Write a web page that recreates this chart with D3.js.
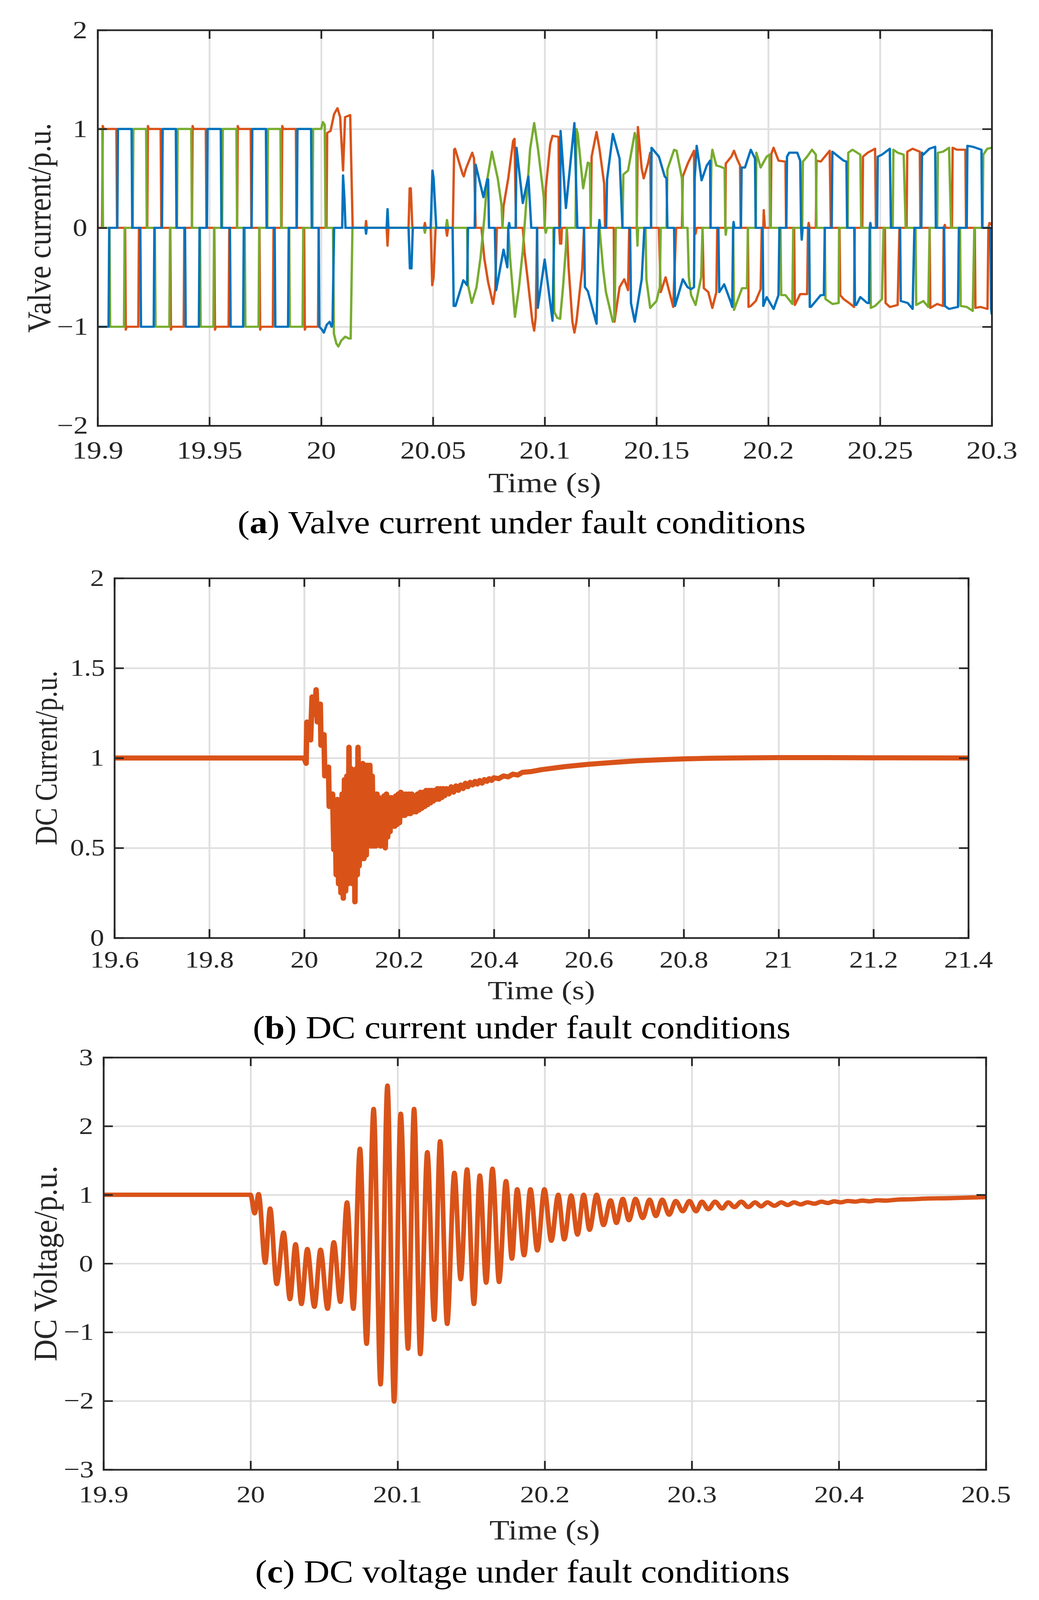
<!DOCTYPE html>
<html>
<head>
<meta charset="utf-8">
<script src="https://cdn.jsdelivr.net/npm/d3@7"></script>
<style>
  html, body { margin: 0; padding: 0; background: #fff; overflow: hidden; }
  svg { display: block; }
  .tick text { transform-box: fill-box; transform-origin: center; transform: scaleX(1.1); }
</style>
</head>
<body>
<div id="chart"></div>
<script>
// ---- panel (a): valve currents, [time s, current p.u.]
const valveOrange = [
  [19.9,0],[19.902,0],[19.9023,1.03],[19.9027,1],[19.9084,1],[19.9087,0],
  [19.9123,0],[19.9126,-1.03],[19.913,-1],[19.9182,-1],[19.9185,0],
  [19.9222,0],[19.9225,1.03],[19.9229,1],[19.9282,1],[19.9285,0],
  [19.9325,0],[19.9328,-1.03],[19.9332,-1],[19.9385,-1],[19.9388,0],
  [19.9422,0],[19.9425,1.03],[19.9429,1],[19.9484,1],[19.9487,0],
  [19.9522,0],[19.9525,-1.03],[19.9529,-1],[19.9586,-1],[19.9589,0],
  [19.9624,0],[19.9627,1.03],[19.9631,1],[19.9685,1],[19.9688,0],
  [19.9724,0],[19.9727,-1.03],[19.9731,-1],[19.9784,-1],[19.9787,0],
  [19.9823,0],[19.9826,1.03],[19.983,1],[19.9887,1],[19.989,0],
  [19.9924,0],[19.9927,-1.03],[19.9931,-1],[19.9986,-1],[19.9989,0],
  [20.0024,0],[20.0027,0.96],[20.0042,0.98],[20.0058,1.15],[20.0073,1.21],[20.0085,1.12],[20.0098,0.58],[20.0107,1.12],[20.013,1.14],[20.0141,0],
  [20.0198,0],[20.0201,0.07],[20.0204,0],[20.0293,0],[20.0297,-0.18],[20.0301,0],
  [20.0391,0],[20.0396,0.4],[20.0401,0.4],[20.0408,0],[20.046,0],[20.0464,0.05],[20.0468,0],
  [20.049,0],[20.0497,-0.58],[20.0503,-0.5],[20.0512,0],[20.0558,0],[20.0563,-0.08],[20.0568,0],
  [20.0589,0],[20.0595,0.79],[20.0599,0.8],[20.0632,0.55],[20.0638,0.52],[20.0648,0.6],[20.0676,0.76],[20.0684,0.7],[20.0691,0],
  [20.0717,0],[20.073,-0.31],[20.0747,-0.55],[20.0769,-0.77],[20.0779,-0.62],[20.0786,0],
  [20.0811,0],[20.0816,0.22],[20.0837,0.5],[20.0859,0.88],[20.0865,0.9],[20.0872,0],
  [20.0902,0],[20.091,-0.25],[20.0923,-0.5],[20.0945,-0.95],[20.0953,-1.04],[20.096,-0.9],[20.0966,0],
  [20.1,0],[20.1005,0.4],[20.1025,0.85],[20.1035,0.93],[20.1062,0.92],[20.1065,0],[20.1069,-0.16],[20.1074,-0.16],[20.1077,0],
  [20.1099,0],[20.1107,-0.4],[20.1124,-0.95],[20.1133,-1.06],[20.1142,-0.95],[20.1168,-0.41],[20.1176,0],
  [20.1206,0],[20.121,0.72],[20.1232,0.97],[20.1245,0.8],[20.1266,0.45],[20.127,0],
  [20.1309,0],[20.1312,-0.95],[20.1335,-0.6],[20.1356,-0.52],[20.1373,-0.63],[20.1378,0],
  [20.1412,0],[20.1417,1.02],[20.1434,0.6],[20.1443,0.5],[20.1462,0.65],[20.1472,0.76],[20.1476,0],
  [20.1511,0],[20.1519,-0.65],[20.1541,-0.5],[20.1575,-0.8],[20.1588,0],
  [20.1614,0],[20.1618,0.52],[20.164,0.65],[20.1655,0.72],[20.1668,0.78],[20.1671,0],[20.1675,-0.06],[20.168,0],
  [20.1706,0],[20.1712,-0.61],[20.1732,-0.65],[20.175,-0.81],[20.1768,-0.65],[20.1772,0],
  [20.1808,0],[20.181,0.65],[20.1835,0.72],[20.1847,0.78],[20.186,0.7],[20.1874,0.63],[20.1877,0],
  [20.1909,0],[20.1912,-0.8],[20.1922,-0.79],[20.1944,-0.74],[20.1966,-0.62],[20.1971,0],[20.1978,0],[20.198,0.18],[20.1985,0],
  [20.2011,0],[20.2014,0.75],[20.2024,0.81],[20.2046,0.68],[20.2077,0.67],[20.208,0],
  [20.2116,0],[20.2119,-0.78],[20.2143,-0.67],[20.2174,-0.67],[20.2178,0],[20.2181,0.05],[20.2185,0],
  [20.2213,0],[20.2216,0.68],[20.2235,0.67],[20.2275,0.78],[20.228,0],
  [20.2319,0],[20.2322,-0.68],[20.2337,-0.72],[20.2362,-0.76],[20.2384,-0.8],[20.2387,0],
  [20.2421,0],[20.2424,0.72],[20.2445,0.76],[20.2478,0.8],[20.2482,0],
  [20.2522,0],[20.2525,-0.76],[20.2544,-0.8],[20.2579,-0.78],[20.2587,0],
  [20.2619,0],[20.2622,0.77],[20.2646,0.8],[20.2678,0.77],[20.2681,0],
  [20.2722,0],[20.2725,-0.81],[20.2756,-0.77],[20.2782,-0.79],[20.2785,0],[20.279,0.03],[20.2794,0],
  [20.2822,0],[20.2825,0.81],[20.2844,0.79],[20.2882,0.79],[20.2885,0],
  [20.2924,0],[20.2927,-0.81],[20.295,-0.8],[20.2981,-0.82],[20.2985,0],[20.299,0.05],[20.3,0.03]
]

const valveGreen = [
  [19.9,1],[19.9021,1],[19.9024,0],
  [19.9053,0],[19.9056,-1],[19.9118,-1],[19.9121,0],
  [19.9157,0],[19.916,1],[19.9217,1],[19.922,0],
  [19.9256,0],[19.9259,-1],[19.9321,-1],[19.9324,0],
  [19.9355,0],[19.9358,1],[19.9419,1],[19.9422,0],
  [19.9458,0],[19.9461,-1],[19.9518,-1],[19.9521,0],
  [19.9557,0],[19.956,1],[19.9621,1],[19.9624,0],
  [19.9658,0],[19.9661,-1],[19.972,-1],[19.9723,0],
  [19.9759,0],[19.9762,1],[19.9818,1],[19.9821,0],
  [19.9857,0],[19.986,-1],[19.9917,-1],[19.992,0],
  [19.9961,0],[19.9964,1],[20.0,1],[20.0008,1.07],[20.0016,1.04],[20.002,0],
  [20.0053,0],[20.0057,-1.07],[20.0068,-1.17],[20.0077,-1.2],[20.009,-1.14],[20.0108,-1.1],[20.0125,-1.12],[20.0132,-1.12],[20.014,0],
  [20.046,0],[20.0464,-0.05],[20.0468,0],[20.0558,0],[20.0563,0.08],[20.0568,0],
  [20.0653,0],[20.0657,-0.58],[20.0674,-0.76],[20.0695,-0.6],[20.0713,-0.3],[20.073,0.1],[20.0743,0.49],[20.0764,0.77],[20.079,0.5],[20.0807,0.23],[20.0811,0],
  [20.0837,0],[20.0845,-0.3],[20.0867,-0.9],[20.0885,-0.6],[20.0902,-0.23],[20.0919,0.3],[20.0935,0.8],[20.0953,1.06],[20.097,0.8],[20.0996,0.31],[20.1,0],[20.1005,-0.05],[20.101,0],
  [20.1039,0],[20.1043,-0.85],[20.1056,-0.91],[20.1069,-0.92],[20.1082,-0.6],[20.1095,-0.2],[20.1099,0],
  [20.1138,0],[20.1142,1.0],[20.1148,0.95],[20.1172,0.4],[20.1193,0.66],[20.1202,0.65],[20.1206,0],
  [20.1245,0],[20.1262,-0.43],[20.1274,-0.65],[20.1305,-0.95],[20.1313,-0.9],[20.1318,0],
  [20.1348,0],[20.1352,0.54],[20.1373,0.58],[20.1403,0.96],[20.141,0.9],[20.1412,0],[20.1415,-0.18],[20.1418,0],
  [20.1451,0],[20.1455,-0.52],[20.1472,-0.81],[20.15,-0.74],[20.1515,-0.6],[20.1519,0],
  [20.1545,0],[20.1549,0.59],[20.1579,0.79],[20.159,0.78],[20.1614,0.5],[20.1618,0],
  [20.1639,0],[20.1645,-0.5],[20.1655,-0.68],[20.1675,-0.78],[20.17,-0.5],[20.1706,0],
  [20.1742,0],[20.1746,0.7],[20.175,0.79],[20.1768,0.63],[20.1785,0.62],[20.1805,0.6],[20.1808,0],[20.181,-0.07],[20.1814,0],
  [20.1843,0],[20.1847,-0.83],[20.1865,-0.72],[20.1883,-0.61],[20.1905,-0.61],[20.1909,0],
  [20.1944,0],[20.1947,0.76],[20.1966,0.61],[20.1993,0.72],[20.2006,0.74],[20.2009,0],
  [20.2055,0],[20.2058,-0.68],[20.2077,-0.68],[20.2108,-0.77],[20.2112,0],
  [20.2152,0],[20.2155,0.67],[20.2174,0.72],[20.2196,0.79],[20.2213,0.74],[20.2216,0],
  [20.2253,0],[20.2256,-0.72],[20.2288,-0.77],[20.2315,-0.76],[20.2317,0],
  [20.2355,0],[20.2358,0.76],[20.2377,0.79],[20.2412,0.74],[20.2416,0],
  [20.2456,0],[20.2459,-0.81],[20.2478,-0.79],[20.2509,-0.72],[20.2516,0],
  [20.2557,0],[20.256,0.79],[20.2579,0.76],[20.2606,0.74],[20.2615,0],
  [20.2659,0],[20.2662,-0.78],[20.2694,-0.74],[20.2716,-0.8],[20.2722,0],
  [20.2756,0],[20.2759,0.76],[20.2782,0.77],[20.2809,0.81],[20.2818,0],
  [20.2858,0],[20.2861,-0.79],[20.2888,-0.8],[20.2915,-0.84],[20.2922,0],
  [20.2959,0],[20.2962,0.74],[20.298,0.8],[20.3,0.81]
]

const valveBlue = [
  [19.9,-1],[19.9049,-1],[19.9052,0],
  [19.9088,0],[19.9091,1],[19.9152,1],[19.9155,0],
  [19.9191,0],[19.9194,-1],[19.9251,-1],[19.9254,0],
  [19.9288,0],[19.9291,1],[19.935,1],[19.9353,0],
  [19.9391,0],[19.9394,-1],[19.9453,-1],[19.9456,0],
  [19.9489,0],[19.9492,1],[19.9551,1],[19.9554,0],
  [19.9592,0],[19.9595,-1],[19.9651,-1],[19.9654,0],
  [19.9689,0],[19.9692,1],[19.9753,1],[19.9756,0],
  [19.9792,0],[19.9795,-1],[19.9852,-1],[19.9855,0],
  [19.9891,0],[19.9894,1],[19.9955,1],[19.9958,0],
  [19.9989,0],[19.9992,-1],[20.0004,-1.03],[20.0012,-1.06],[20.0025,-0.98],[20.0038,-0.95],[20.0047,-1.0],[20.0051,-0.97],[20.0058,0],
  [20.0094,0],[20.0098,0.53],[20.0104,0.3],[20.0109,0],
  [20.0198,0],[20.0201,-0.06],[20.0204,0],[20.0293,0],[20.0297,0.19],[20.0301,0],
  [20.0391,0],[20.0397,-0.41],[20.0404,-0.41],[20.041,0],
  [20.049,0],[20.0498,0.58],[20.0503,0.5],[20.0515,0],
  [20.0588,0],[20.0593,-0.79],[20.0601,-0.79],[20.0636,-0.53],[20.0653,-0.58],[20.0657,0],
  [20.0687,0],[20.0691,0.64],[20.0726,0.31],[20.0743,0.49],[20.0747,0.49],[20.0751,0],
  [20.0777,0],[20.0783,-0.63],[20.0816,-0.22],[20.0833,-0.4],[20.0837,0],[20.0841,0.05],[20.0845,0],
  [20.087,0],[20.0874,0.81],[20.0902,0.25],[20.0927,0.52],[20.094,0],
  [20.0966,0],[20.0969,-0.81],[20.1,-0.32],[20.1035,-0.94],[20.1043,0],
  [20.1069,0],[20.1071,0.98],[20.1095,0.2],[20.1133,1.06],[20.1146,0],
  [20.1176,0],[20.118,-0.6],[20.1193,-0.64],[20.1232,-0.97],[20.1242,0],[20.1245,0.08],[20.1249,0],
  [20.1275,0],[20.1279,0.49],[20.1305,0.95],[20.1335,0.7],[20.1348,0],
  [20.1382,0],[20.1386,-0.76],[20.1403,-0.95],[20.1434,-0.52],[20.1446,0],
  [20.1476,0],[20.1478,0.81],[20.1511,0.72],[20.1537,0.52],[20.1545,0.5],[20.1549,0],
  [20.1579,0],[20.1583,-0.79],[20.1618,-0.52],[20.1639,-0.6],[20.1655,-0.62],[20.1668,-0.6],
  [20.1671,0.5],[20.168,0.83],[20.1702,0.48],[20.1725,0.63],[20.1737,0.67],[20.174,0.68],[20.1742,0],
  [20.1777,0],[20.1781,-0.65],[20.1803,-0.57],[20.1834,-0.76],[20.1839,-0.8],[20.1843,0],[20.1845,0.06],[20.1849,0],
  [20.1878,0],[20.1881,0.61],[20.1896,0.61],[20.1922,0.79],[20.1941,0.7],[20.1944,0],
  [20.1975,0],[20.1978,-0.79],[20.1993,-0.7],[20.2024,-0.82],[20.2046,-0.68],[20.205,0],
  [20.2081,0],[20.2084,0.72],[20.2094,0.76],[20.213,0.76],[20.2143,0.68],[20.2147,0],[20.215,-0.12],[20.2154,0],
  [20.2183,0],[20.2186,-0.8],[20.2191,-0.8],[20.2235,-0.68],[20.2249,-0.68],[20.2253,0],
  [20.2284,0],[20.2287,0.77],[20.2315,0.72],[20.2337,0.68],[20.235,0.67],[20.2353,0],
  [20.2385,0],[20.2388,-0.78],[20.2394,-0.78],[20.2412,-0.7],[20.2443,-0.76],[20.2451,-0.76],[20.2454,0],[20.2457,0.05],[20.246,0],
  [20.2487,0],[20.249,0.72],[20.2509,0.74],[20.2544,0.8],[20.2549,0],
  [20.259,0],[20.2593,-0.74],[20.2624,-0.76],[20.2646,-0.82],[20.2654,0],
  [20.2685,0],[20.2688,0.76],[20.2694,0.74],[20.2721,0.8],[20.2747,0.82],[20.275,0],
  [20.2787,0],[20.279,-0.79],[20.2809,-0.82],[20.2849,-0.8],[20.2853,0],
  [20.2888,0],[20.2891,0.83],[20.2915,0.82],[20.2954,0.79],[20.2957,0],
  [20.2994,0],[20.2997,-0.82],[20.3,-0.87]
]

// ---- panel (b): DC current (ripple read as alternating highs and lows)
const dcCurrent = [
  [19.6,1.0],[20.0,1.0],[20.0041,0.97],[20.0057,1.2],[20.0135,1.1],[20.0167,1.34],[20.0223,1.24],[20.0252,1.38],
  [20.0277,1.2],[20.034,1.3],[20.0355,1.07],[20.0418,1.13],[20.0434,0.9],[20.0513,0.95],[20.0528,0.73],[20.0575,0.8],
  [20.06,0.8],[20.0625,0.49],[20.065,0.76],[20.0675,0.35],[20.07,0.77],[20.0725,0.3],[20.075,0.76],[20.0775,0.25],
  [20.08,0.8],[20.0825,0.22],[20.085,0.88],[20.0875,0.26],[20.09,0.9],[20.0925,0.3],[20.0945,1.06],[20.097,0.34],
  [20.0995,0.94],[20.102,0.3],[20.1045,0.92],[20.107,0.2],[20.1095,0.94],[20.112,0.35],[20.1135,1.06],[20.116,0.4],
  [20.1185,0.96],[20.121,0.44],[20.1235,0.97],[20.126,0.44],[20.1285,0.96],[20.131,0.46],[20.1335,0.96],[20.136,0.54],
  [20.1385,0.96],[20.141,0.51],[20.1435,0.9],[20.146,0.51],[20.1485,0.8],[20.151,0.51],[20.1535,0.8],[20.156,0.52],
  [20.1585,0.78],[20.161,0.51],[20.1635,0.77],[20.166,0.52],[20.1685,0.79],[20.171,0.5],[20.1735,0.8],[20.176,0.56],
  [20.1785,0.78],[20.181,0.59],[20.1835,0.78],[20.186,0.62],[20.1885,0.78],[20.191,0.62],[20.1935,0.79],[20.196,0.63],
  [20.1985,0.8],[20.201,0.64],[20.2035,0.81],[20.206,0.68],[20.209,0.8],[20.212,0.68],[20.215,0.8],[20.218,0.69],
  [20.221,0.8],[20.224,0.69],[20.227,0.8],[20.23,0.7],[20.233,0.79],[20.236,0.7],[20.239,0.8],[20.242,0.71],
  [20.245,0.81],[20.248,0.72],[20.251,0.81],[20.254,0.73],[20.257,0.82],[20.26,0.74],[20.263,0.82],[20.266,0.75],
  [20.269,0.82],[20.272,0.76],[20.275,0.82],[20.278,0.77],[20.281,0.83],[20.284,0.77],[20.287,0.83],[20.29,0.78],
  [20.293,0.83],[20.296,0.79],[20.3,0.83],[20.305,0.8],[20.31,0.84],[20.315,0.81],[20.32,0.845],[20.325,0.82],
  [20.33,0.85],[20.335,0.83],[20.34,0.86],[20.345,0.84],[20.35,0.865],[20.355,0.85],[20.36,0.87],[20.365,0.855],
  [20.37,0.875],[20.375,0.86],[20.38,0.88],[20.385,0.87],[20.39,0.885],[20.395,0.875],[20.4,0.89],[20.41,0.885],
  [20.42,0.9],[20.43,0.895],[20.44,0.91],[20.45,0.905],[20.46,0.92],[20.48,0.925],[20.5,0.935],[20.55,0.952],
  [20.6,0.965],[20.65,0.975],[20.7,0.984],[20.75,0.99],[20.8,0.995],[20.85,0.998],[20.9,1.0],[21.0,1.002],
  [21.1,1.002],[21.2,1.001],[21.4,1.0]
]

// ---- panel (c): DC voltage (peaks and troughs)
const dcVoltage = [
  [19.9,1],[20.0,1],[20.0028,0.73],[20.0055,1.01],[20.01,0.01],[20.0133,0.8],[20.0178,-0.3],[20.0225,0.45],
  [20.0268,-0.52],[20.0306,0.28],[20.0346,-0.59],[20.0386,0.21],[20.0434,-0.63],[20.0476,0.2],[20.0524,-0.66],[20.0566,0.31],
  [20.0611,-0.56],[20.0656,0.89],[20.0699,-0.66],[20.0744,1.67],[20.0789,-1.17],[20.0837,2.25],[20.0884,-1.76],[20.0931,2.59],
  [20.0976,-2.01],[20.1021,2.18],[20.1071,-1.24],[20.1112,2.25],[20.1154,-1.32],[20.1202,1.62],[20.1249,-0.82],[20.1289,1.78],
  [20.1337,-0.88],[20.1386,1.32],[20.1429,-0.23],[20.1472,1.37],[20.1519,-0.59],[20.1559,1.28],[20.1602,-0.28],[20.1645,1.38],
  [20.169,-0.27],[20.1737,1.2],[20.1777,0.07],[20.1813,1.08],[20.186,0.12],[20.1903,1.08],[20.195,0.19],[20.1998,1.08],
  [20.2045,0.33],[20.2092,1.0],[20.2133,0.35],[20.218,0.99],[20.2223,0.42],[20.2265,1.0],[20.2305,0.49],[20.2353,1.0],
  [20.24,0.56],[20.2448,0.92],[20.2488,0.59],[20.2531,0.94],[20.2573,0.63],[20.2618,0.94],[20.2666,0.66],[20.2713,0.93],
  [20.2756,0.69],[20.2799,0.93],[20.2846,0.71],[20.2891,0.91],[20.2939,0.76],[20.2984,0.91],[20.3029,0.76],[20.3069,0.9],
  [20.3112,0.79],[20.3159,0.9],[20.3206,0.8],[20.3249,0.89],[20.3289,0.82],[20.3337,0.9],[20.3384,0.82],[20.3431,0.89],
  [20.3472,0.83],[20.3514,0.89],[20.3562,0.84],[20.3609,0.89],[20.3652,0.85],[20.3695,0.89],[20.374,0.86],[20.3787,0.89],
  [20.3834,0.87],[20.3882,0.9],[20.3924,0.88],[20.3969,0.905],[20.4012,0.89],[20.406,0.91],[20.411,0.9],[20.416,0.915],
  [20.421,0.905],[20.426,0.92],[20.432,0.915],[20.44,0.93],[20.45,0.935],[20.46,0.945],[20.475,0.95],[20.49,0.96],[20.5,0.965]
]

// ---- ticks
const aXTicks = [19.9, 19.95, 20, 20.05, 20.1, 20.15, 20.2, 20.25, 20.3]
const aXLabels = ['19.9', '19.95', '20', '20.05', '20.1', '20.15', '20.2', '20.25', '20.3']
const aYTicks = [-2, -1, 0, 1, 2]
const aYLabels = ['\u22122', '\u22121', '0', '1', '2']
const bXTicks = [19.6, 19.8, 20, 20.2, 20.4, 20.6, 20.8, 21, 21.2, 21.4]
const bXLabels = ['19.6', '19.8', '20', '20.2', '20.4', '20.6', '20.8', '21', '21.2', '21.4']
const bYTicks = [0, 0.5, 1, 1.5, 2]
const bYLabels = ['0', '0.5', '1', '1.5', '2']
const cXTicks = [19.9, 20, 20.1, 20.2, 20.3, 20.4, 20.5]
const cXLabels = ['19.9', '20', '20.1', '20.2', '20.3', '20.4', '20.5']
const cYTicks = [-3, -2, -1, 0, 1, 2, 3]
const cYLabels = ['\u22123', '\u22122', '\u22121', '0', '1', '2', '3']

const ink = '#262626'
const gridColor = '#dfdfdf'
const serif = '"Liberation Serif", "Times New Roman", serif'
const W = 2661, H = 4417

// fit the drawing to whatever the viewport really is
const svg = d3.select('#chart').append('svg')
    .attr('viewBox', `0 0 ${W} ${H}`)
    .attr('preserveAspectRatio', 'none')
    .style('width', '100vw')
    .style('height', '100vh')
    .attr('font-family', serif)

function fitText(sel, target) {
    const len = sel.node().getComputedTextLength()
    return target / len
}

function drawPanel(p) {
    const x = d3.scaleLinear().domain(p.xDomain).range([p.left, p.right])
    const y = d3.scaleLinear().domain(p.yDomain).range([p.bottom, p.top])
    const w = p.right - p.left
    const h = p.bottom - p.top
    const g = svg.append('g')

    // grid
    g.append('g')
        .attr('transform', `translate(0,${p.bottom})`)
        .call(d3.axisBottom(x).tickValues(p.xTicks).tickSize(-h).tickFormat(''))
        .call(a => a.select('.domain').remove())
        .selectAll('line').attr('stroke', gridColor).attr('stroke-width', 4.5)
    g.append('g')
        .attr('transform', `translate(${p.left},0)`)
        .call(d3.axisLeft(y).tickValues(p.yTicks).tickSize(-w).tickFormat(''))
        .call(a => a.select('.domain').remove())
        .selectAll('line').attr('stroke', gridColor).attr('stroke-width', 4.5)

    const clipId = 'clip-' + p.id
    svg.append('clipPath').attr('id', clipId)
        .append('rect').attr('x', p.left).attr('y', p.top).attr('width', w).attr('height', h)

    const line = d3.line().x(d => x(d[0])).y(d => y(d[1])).curve(p.curve)
    p.series.forEach(s => {
        g.append('path')
            .datum(s.values)
            .attr('clip-path', `url(#${clipId})`)
            .attr('fill', 'none')
            .attr('stroke', s.color)
            .attr('stroke-width', s.width)
            .attr('stroke-linejoin', 'round')
            .attr('stroke-linecap', 'round')
            .attr('d', line)
    })

    const axStyle = sel => {
        sel.attr('font-size', p.tickSize).attr('font-family', serif).attr('color', ink)
        sel.selectAll('.domain').attr('stroke-width', 4.5).attr('stroke-linecap', 'square')
        sel.selectAll('.tick line').attr('stroke-width', 4.5)
    }
    g.append('g')
        .attr('transform', `translate(0,${p.bottom})`)
        .call(d3.axisBottom(x).tickValues(p.xTicks)
            .tickFormat(d => p.xLabels[p.xTicks.indexOf(d)])
            .tickSizeInner(-24).tickSizeOuter(0).tickPadding(p.xPad))
        .call(axStyle)
    g.append('g')
        .attr('transform', `translate(0,${p.top})`)
        .call(d3.axisTop(x).tickValues(p.xTicks).tickFormat('').tickSizeInner(-24).tickSizeOuter(0))
        .call(axStyle)
    g.append('g')
        .attr('transform', `translate(${p.left},0)`)
        .call(d3.axisLeft(y).tickValues(p.yTicks)
            .tickFormat(d => p.yLabels[p.yTicks.indexOf(d)])
            .tickSizeInner(-24).tickSizeOuter(0).tickPadding(28))
        .call(axStyle)
    g.append('g')
        .attr('transform', `translate(${p.right},0)`)
        .call(d3.axisRight(y).tickValues(p.yTicks).tickFormat('').tickSizeInner(-24).tickSizeOuter(0))
        .call(axStyle)

    // axis titles
    const tx = svg.append('text')
        .attr('text-anchor', 'middle')
        .attr('font-size', p.labelSize)
        .attr('fill', ink)
        .text('Time (s)')
    tx.attr('transform', `translate(${(p.left + p.right) / 2},${p.timeY}) scale(${fitText(tx, p.timeWidth)},1)`)

    const ty = svg.append('text')
        .attr('text-anchor', 'middle')
        .attr('font-size', p.labelSize)
        .attr('fill', ink)
        .text(p.ylabel)
    ty.attr('transform', `translate(${p.ylabelX},${(p.top + p.bottom) / 2}) rotate(-90) scale(${fitText(ty, p.ylabelLen)},1.08)`)

    // caption
    const cap = svg.append('text')
        .attr('text-anchor', 'middle')
        .attr('font-size', 90)
        .attr('fill', '#000')
    cap.append('tspan').text('(')
    cap.append('tspan').attr('font-weight', 'bold').text(p.capLetter)
    cap.append('tspan').text(') ' + p.capText)
    cap.attr('transform', `translate(${p.capX},${p.capY}) scale(${fitText(cap, p.capWidth)},1)`)
}

drawPanel({
    id: 'a', left: 250, right: 2540, top: 83, bottom: 1175,
    xDomain: [19.9, 20.3], yDomain: [-2, 2],
    xTicks: aXTicks, xLabels: aXLabels, yTicks: aYTicks, yLabels: aYLabels,
    tickSize: 68, labelSize: 78,
    xPad: 43, timeY: 1359, timeWidth: 289, ylabelX: 129, ylabelLen: 579, ylabel: 'Valve current/p.u.',
    curve: d3.curveLinear,
    series: [
        { values: valveOrange, color: '#D95319', width: 6 },
        { values: valveGreen, color: '#77AC30', width: 6 },
        { values: valveBlue, color: '#0072BD', width: 6 }
    ],
    capLetter: 'a', capText: 'Valve current under fault conditions',
    capX: 1336, capY: 1472, capWidth: 1455
})

drawPanel({
    id: 'b', left: 293, right: 2480, top: 1596, bottom: 2589,
    xDomain: [19.6, 21.4], yDomain: [0, 2],
    xTicks: bXTicks, xLabels: bXLabels, yTicks: bYTicks, yLabels: bYLabels,
    tickSize: 65, labelSize: 74,
    xPad: 36, timeY: 2758, timeWidth: 275, ylabelX: 145, ylabelLen: 482, ylabel: 'DC Current/p.u.',
    curve: d3.curveLinear,
    series: [{ values: dcCurrent, color: '#D95319', width: 14 }],
    capLetter: 'b', capText: 'DC current under fault conditions',
    capX: 1336, capY: 2866, capWidth: 1377
})

drawPanel({
    id: 'c', left: 265, right: 2525, top: 2919, bottom: 4057,
    xDomain: [19.9, 20.5], yDomain: [-3, 3],
    xTicks: cXTicks, xLabels: cXLabels, yTicks: cYTicks, yLabels: cYLabels,
    tickSize: 66, labelSize: 78,
    xPad: 44, timeY: 4250, timeWidth: 283, ylabelX: 145, ylabelLen: 540, ylabel: 'DC Voltage/p.u.',
    curve: d3.curveMonotoneX,
    series: [{ values: dcVoltage, color: '#D95319', width: 12 }],
    capLetter: 'c', capText: 'DC voltage under fault conditions',
    capX: 1338, capY: 4368, capWidth: 1369
})
</script>
</body>
</html>
